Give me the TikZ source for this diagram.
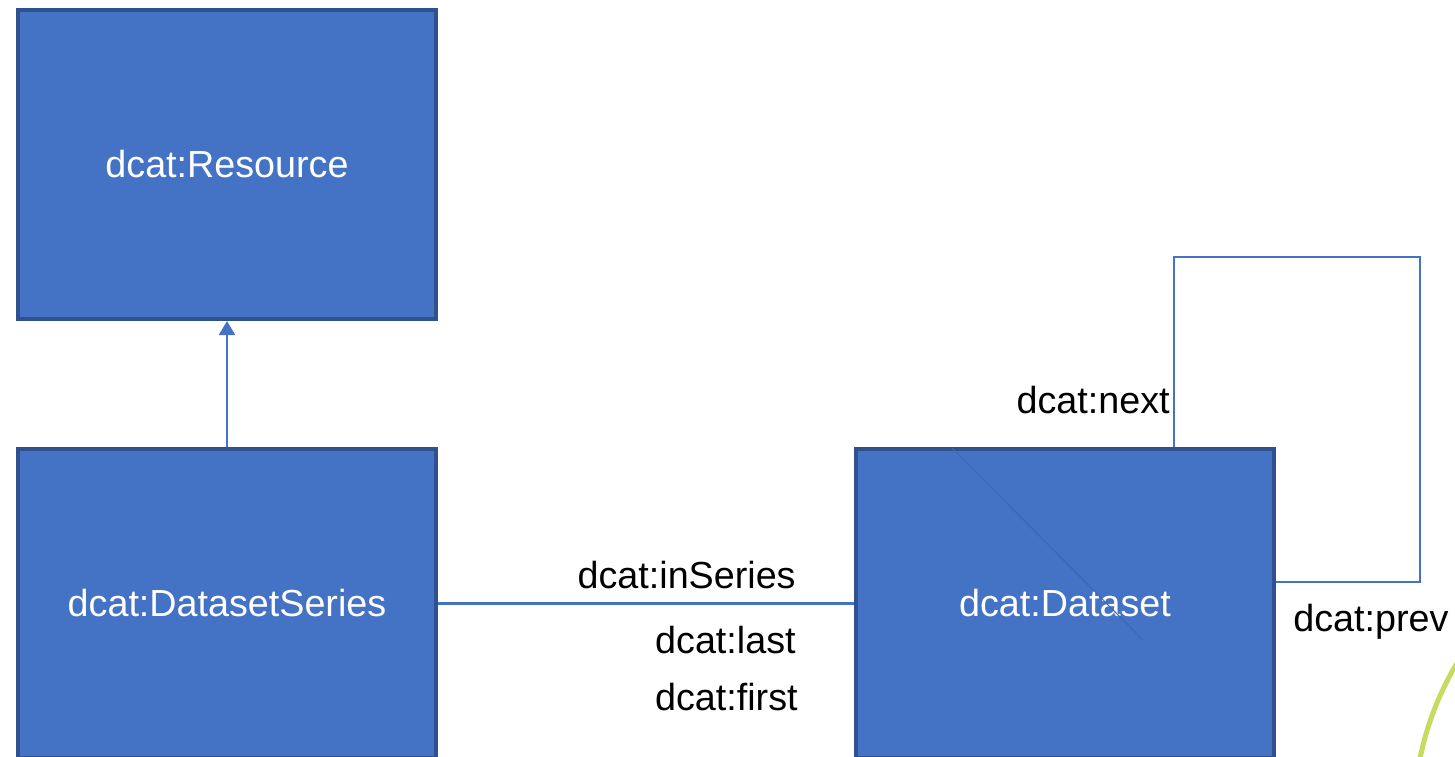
\documentclass[tikz,border=0pt]{standalone}
\usepackage{fontspec}
\setmainfont{Liberation Sans}
\usetikzlibrary{arrows.meta}
\definecolor{boxfill}{RGB}{68,114,196}
\definecolor{boxline}{RGB}{47,82,143}
\definecolor{arcgreen}{RGB}{198,220,96}

\begin{document}
\begin{tikzpicture}[x=0.5pt,y=-0.5pt,
    every node/.style={font=\fontsize{18.85}{22}\selectfont},
    classbox/.style={draw=boxline,line width=2pt,fill=boxfill,text=white,
        minimum width=209pt,minimum height=154.5pt,inner sep=0pt},
    label/.style={inner sep=0pt,text=black},
    link/.style={draw=boxfill,line width=1.1pt}]
        % frame
        \useasboundingbox (0,0) rectangle (1455,756);
        \clip (0,0) rectangle (1455,756);

        % classes
        \node[classbox] (res) at (227,164.5) {dcat:Resource};
        \node[classbox] (ser) at (227,603.5) {dcat:DatasetSeries};
        \node[classbox] (ds) at (1065,603.5) {dcat:Dataset};
        \draw[boxfill!90!black,line width=0.5pt] (952,448) -- (1143,640);

        % links
        \draw[link,-{Triangle[width=8pt,length=7pt]}] (ser.north) -- (res.south);
        \draw[link] (ser.east) -- (ds.west);
        \coordinate (loopA) at (1174,257);
        \coordinate (loopB) at (1420,257);
        \coordinate (loopC) at (1420,582);
        \draw[link] (loopA |- ds.north) -- (loopA) -- (loopB) -- (loopC) -- (loopC -| ds.east);

        % property names
        \node[label,anchor=east] (inser) at (796,575) {dcat:inSeries};
        \node[label,anchor=east] (last) at (796,640) {dcat:last};
        \node[label,anchor=east] (first) at (798,697) {dcat:first};
        \node[label,anchor=east] (next) at (1170,400) {dcat:next};
        \node[label,anchor=west] (prev) at (1293,622) {dcat:prev};

        % green arc at the edge
        \draw[arcgreen,line width=2.5pt] (1718,819) circle[radius=304];
\end{tikzpicture}
\end{document}
